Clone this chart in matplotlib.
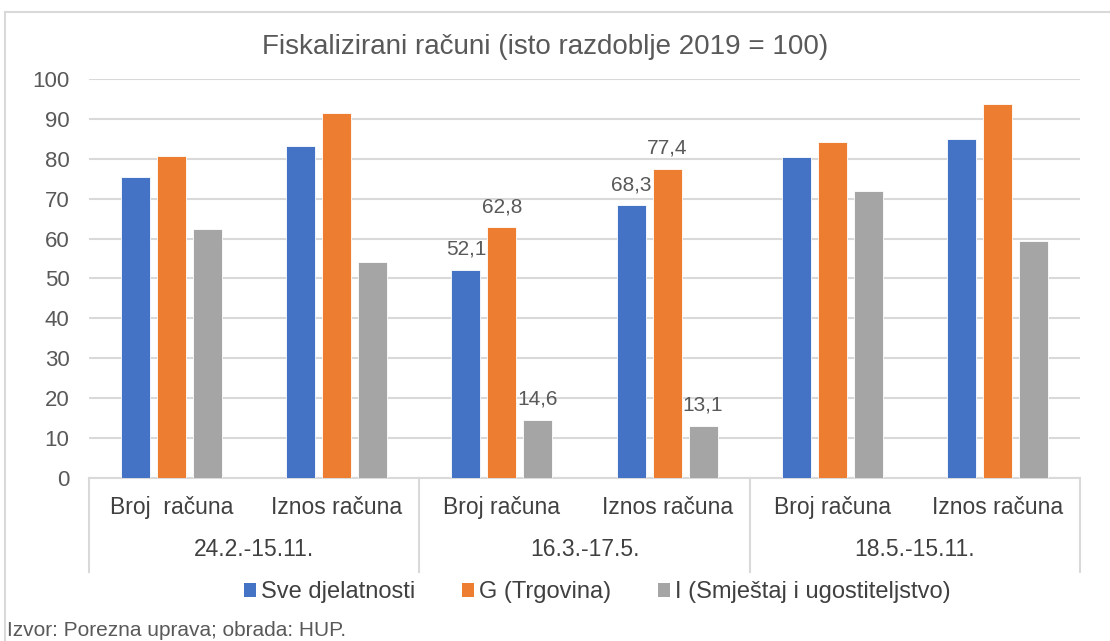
import matplotlib.pyplot as plt
import numpy as np
from matplotlib.lines import Line2D
from matplotlib.patches import Patch

plt.rcParams['font.family'] = ['Liberation Sans', 'DejaVu Sans']

# Data
categories = ['Broj  računa', 'Iznos računa', 'Broj računa', 'Iznos računa', 'Broj računa', 'Iznos računa']
groups = ['24.2.-15.11.', '16.3.-17.5.', '18.5.-15.11.']
series_names = ['Sve djelatnosti', 'G (Trgovina)', 'I (Smještaj i ugostiteljstvo)']
sve = [75.5, 83.3, 52.1, 68.3, 80.4, 84.9]
trgovina = [80.7, 91.4, 62.8, 77.4, 84.3, 93.7]
smjestaj = [62.3, 54.1, 14.6, 13.1, 72.0, 59.5]
labelled = [2, 3]  # categories with data labels

colors = ['#4472C4', '#ED7D31', '#A5A5A5']
text_col = '#595959'
grid_col = '#D9D9D9'

fig = plt.figure(figsize=(11.1, 6.41), dpi=100)
ax = fig.add_axes([0.0802, 0.2543, 0.8928, 0.6225])

x = np.arange(len(categories))
step = 0.218
width = 0.176
for i, (vals, col) in enumerate(zip([sve, trgovina, smjestaj], colors)):
    pos = x + (i - 1) * step
    ax.bar(pos, vals, width=width, color=col, edgecolor='white', linewidth=0.6, zorder=3)
    for j in labelled:
        ax.text(pos[j], vals[j] + 2.8, f'{vals[j]:.1f}'.replace('.', ','),
                ha='center', va='bottom', fontsize=15, color=text_col)

ax.set_xlim(-0.5, 5.5)
ax.set_ylim(0, 100)
ax.set_yticks(range(0, 101, 10))
ax.tick_params(axis='y', length=0, labelsize=16, labelcolor=text_col, pad=14)
ax.set_xticks([])
ax.grid(axis='y', color=grid_col, linewidth=1.5, zorder=0)
for s in ['top', 'right', 'left']:
    ax.spines[s].set_visible(False)
ax.spines['bottom'].set_color(grid_col)
ax.spines['bottom'].set_linewidth(1.5)

# multi-level category axis
trans = ax.get_xaxis_transform()
for j, cat in enumerate(categories):
    ax.text(j, -0.075, cat, transform=trans, ha='center', va='center',
            fontsize=16.5, color='#404040')
for g, grp in enumerate(groups):
    ax.text(2 * g + 0.5, -0.178, grp, transform=trans, ha='center', va='center',
            fontsize=16.5, color='#404040')
for xb in [-0.5, 1.5, 3.5, 5.5]:
    ax.plot([xb, xb], [0, -0.235], transform=trans, color=grid_col,
            linewidth=1.5, clip_on=False)

fig.text(0.491, 1 - 47 / 641, 'Fiskalizirani računi (isto razdoblje 2019 = 100)',
         fontsize=20, color=text_col, ha='center', va='center')

handles = [Patch(facecolor=c, edgecolor='none') for c in colors]
fig.legend(handles, series_names, loc='center', bbox_to_anchor=(0.538, 1 - 592 / 641),
           ncol=3, frameon=False, fontsize=17, handlelength=0.5, handleheight=0.55,
           handletextpad=0.2, columnspacing=2.0, labelcolor='#404040')

fig.text(0.006, 1 - 631 / 641, 'Izvor: Porezna uprava; obrada: HUP.', fontsize=15,
         color=text_col, ha='left', va='center')

# outer chart border
fig.add_artist(Line2D([5 / 1110, 5 / 1110], [0, 1 - 12 / 641], color=grid_col, linewidth=1.5))
fig.add_artist(Line2D([5 / 1110, 1], [1 - 12 / 641, 1 - 12 / 641], color=grid_col, linewidth=1.5))

fig.savefig('out.png', dpi=100)
